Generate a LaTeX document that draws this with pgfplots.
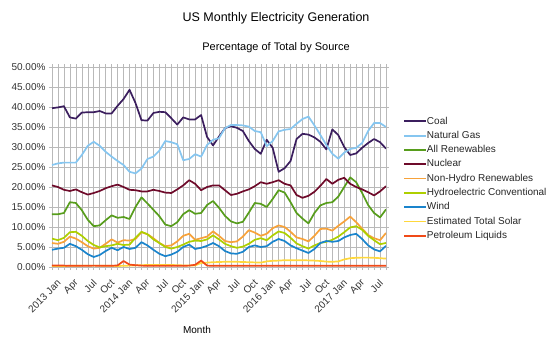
\documentclass[border=0pt]{standalone}
\usepackage{fontspec}
\setmainfont{Liberation Sans}
\usepackage{pgfplots}
\usepackage{pgfplotstable}
\pgfplotsset{compat=1.18}
\definecolor{cCoal}{HTML}{3B1E5E}
\definecolor{cGas}{HTML}{86C6F0}
\definecolor{cRen}{HTML}{579D1C}
\definecolor{cNuc}{HTML}{6E0A2A}
\definecolor{cNH}{HTML}{F7A23A}
\definecolor{cHyd}{HTML}{AECF00}
\definecolor{cWind}{HTML}{1A84CC}
\definecolor{cSol}{HTML}{FFD83C}
\definecolor{cPet}{HTML}{F04A18}
\pgfplotstableread{
idx coal gas ren nuc nh hyd wind sol pet
0 39.7 25.5 13.2 20.4 6.0 7.1 4.3 0.20 0.40
1 39.9 25.9 13.2 20.0 5.8 6.7 4.6 0.20 0.40
2 40.2 26.1 13.5 19.3 6.3 7.3 4.8 0.25 0.35
3 37.4 26.1 16.2 19.0 7.6 8.7 5.8 0.30 0.30
4 37.1 26.1 16.0 19.4 7.1 8.8 5.2 0.30 0.30
5 38.6 28.0 14.2 18.7 6.2 7.8 4.3 0.35 0.30
6 38.7 30.3 11.8 18.1 5.2 6.5 3.2 0.35 0.30
7 38.7 31.3 10.2 18.5 4.6 5.5 2.5 0.35 0.35
8 39.0 30.3 10.4 19.0 4.8 4.9 3.0 0.35 0.30
9 38.4 28.8 11.7 19.7 5.8 5.2 4.0 0.30 0.30
10 38.4 27.6 12.9 20.2 6.9 5.4 4.8 0.30 0.30
11 40.3 26.5 12.3 20.6 6.1 5.8 4.2 0.25 0.40
12 42.0 25.5 12.5 20.0 6.7 5.5 5.0 0.30 1.50
13 44.3 23.8 12.0 19.3 6.6 5.6 4.5 0.35 0.60
14 41.0 23.4 15.0 19.2 7.0 7.3 4.8 0.40 0.45
15 36.7 24.6 17.4 18.9 8.7 8.8 6.2 0.45 0.35
16 36.6 27.0 15.9 18.9 8.2 8.2 5.4 0.50 0.30
17 38.5 27.6 14.3 19.3 7.2 6.9 4.3 0.50 0.30
18 38.8 29.1 12.7 19.0 6.0 6.0 3.3 0.50 0.30
19 38.7 31.5 10.6 18.6 5.2 5.0 2.7 0.50 0.30
20 37.2 31.2 10.2 18.5 5.4 4.6 3.1 0.50 0.30
21 35.6 30.7 11.2 19.4 6.4 5.0 3.8 0.45 0.30
22 37.4 26.7 13.2 20.4 7.8 5.6 5.0 0.40 0.30
23 36.9 27.0 14.2 21.7 8.3 6.3 5.6 0.40 0.35
24 36.9 28.2 13.3 20.8 6.8 6.6 4.5 0.40 0.55
25 38.0 27.6 13.5 19.2 7.2 6.5 4.8 1.00 1.60
26 32.5 30.5 15.5 20.0 7.6 6.9 5.3 1.10 0.35
27 30.4 31.8 16.5 20.4 8.9 7.9 6.0 1.20 0.30
28 32.6 32.2 14.8 20.4 7.8 6.9 5.2 1.25 0.30
29 34.7 34.7 12.8 19.2 6.5 5.8 4.0 1.30 0.30
30 35.2 35.5 11.4 18.0 6.2 5.2 3.4 1.30 0.30
31 34.8 35.5 10.9 18.3 6.4 4.8 3.3 1.30 0.30
32 34.0 35.4 11.3 18.9 7.6 5.1 3.8 1.25 0.30
33 31.5 35.1 13.6 19.4 9.2 5.8 5.0 1.20 0.30
34 29.5 34.0 16.0 20.2 8.6 6.8 5.4 1.15 0.30
35 28.3 33.7 15.8 21.2 7.8 7.2 5.0 1.10 0.30
36 31.8 30.2 15.0 20.8 8.3 6.7 5.2 1.40 0.30
37 29.8 31.5 17.0 21.2 9.7 7.9 6.3 1.55 0.30
38 23.8 33.9 19.2 21.7 10.4 8.9 7.0 1.60 0.30
39 24.7 34.3 18.6 20.8 10.0 8.5 6.5 1.70 0.30
40 26.5 34.5 16.2 20.4 8.8 7.3 5.4 1.70 0.30
41 32.0 35.8 13.5 18.0 7.4 5.9 4.7 1.70 0.30
42 33.3 37.0 12.1 17.3 7.0 5.2 4.1 1.70 0.30
43 33.1 37.6 10.9 17.8 6.4 4.6 3.5 1.65 0.30
44 32.4 35.4 13.5 18.8 7.8 5.4 4.5 1.60 0.30
45 31.3 33.0 15.4 20.3 9.5 6.0 6.0 1.50 0.30
46 29.4 30.5 16.0 22.0 9.6 6.3 6.5 1.35 0.30
47 34.4 28.3 16.2 20.8 9.1 6.8 6.3 1.30 0.30
48 33.0 27.1 17.6 21.8 10.3 7.6 6.5 1.40 0.30
49 30.0 28.6 20.0 22.3 11.4 8.7 7.4 1.90 0.30
50 28.0 29.5 22.4 20.8 12.6 9.9 8.0 2.20 0.30
51 28.4 29.8 21.2 20.0 11.2 10.2 8.3 2.30 0.30
52 29.8 31.0 18.5 19.4 9.6 9.3 7.0 2.35 0.30
53 31.0 34.0 15.5 18.7 8.0 7.8 5.4 2.35 0.30
54 32.0 36.0 13.5 17.9 7.2 6.7 4.4 2.30 0.30
55 31.2 36.0 12.4 18.9 6.7 5.7 3.9 2.20 0.30
56 29.6 35.0 14.4 20.2 8.5 6.0 5.3 2.10 0.30
}\datatable
\begin{document}
\begin{tikzpicture}
\useasboundingbox (-52bp,-83bp) rectangle (501bp,267bp);
\begin{axis}[
  at={(0,0)}, anchor=south west,
  width=334bp, height=200bp, scale only axis,
  xmin=0, xmax=56, ymin=0, ymax=50,
  xtick={0,...,56},
  xticklabels={2013 Jan,,,Apr,,,Jul,,,Oct,,,2014 Jan,,,Apr,,,Jul,,,Oct,,,2015 Jan,,,Apr,,,Jul,,,Oct,,,2016 Jan,,,Apr,,,Jul,,,Oct,,,2017 Jan,,,Apr,,,Jul,,},
  ytick={0,5,...,50},
  yticklabel={\pgfmathprintnumber[fixed,fixed zerofill,precision=2]{\tick}\%},
  /pgf/number format/assume math mode=true,
  grid=major,
  grid style={gray!55, line width=0.5bp},
  axis line style={gray!55, line width=0.5bp},
  tick style={gray!55, line width=0.5bp},
  tick align=outside,
  major tick length=3bp,
  xticklabel style={xshift=9.5bp, yshift=-9bp, rotate=45, anchor=east, font=\fontsize{10bp}{12bp}\selectfont, text=black!80},
  yticklabel style={font=\fontsize{10bp}{12bp}\selectfont, text=black!80},
  legend style={at={(1.0419,0.763)}, anchor=north west, draw=none, fill=none,
    font=\fontsize{10bp}{12bp}\selectfont, text=black!85, row sep=4.8bp,
    nodes={inner sep=0pt, text height=7.5bp, text depth=2bp},
    /tikz/every even column/.append style={column sep=3.7bp}},
  legend cell align=left,
  legend image code/.code={\draw[#1, line width=1.8bp] (0bp,0bp) -- (22bp,0bp);},
  legend image post style={line width=1.8bp},
  every axis plot/.append style={line width=1.7bp, line join=round},
]
\addplot[cCoal] table[x=idx,y=coal]{\datatable};
\addlegendentry{Coal}
\addplot[cGas] table[x=idx,y=gas]{\datatable};
\addlegendentry{Natural Gas}
\addplot[cRen] table[x=idx,y=ren]{\datatable};
\addlegendentry{All Renewables}
\addplot[cNuc] table[x=idx,y=nuc]{\datatable};
\addlegendentry{Nuclear}
\addplot[cNH] table[x=idx,y=nh]{\datatable};
\addlegendentry{Non-Hydro Renewables}
\addplot[cHyd] table[x=idx,y=hyd]{\datatable};
\addlegendentry{Hydroelectric Conventional}
\addplot[cWind] table[x=idx,y=wind]{\datatable};
\addlegendentry{Wind}
\addplot[cSol] table[x=idx,y=sol]{\datatable};
\addlegendentry{Estimated Total Solar}
\addplot[cPet] table[x=idx,y=pet]{\datatable};
\addlegendentry{Petroleum Liquids}
\end{axis}
\node[font=\fontsize{12.5bp}{15bp}\selectfont] at (224bp,249bp) {US Monthly Electricity Generation};
\node[font=\fontsize{11bp}{13bp}\selectfont] at (224bp,219bp) {Percentage of Total by Source};
\node[font=\fontsize{10bp}{12bp}\selectfont] at (145bp,-63bp) {Month};
\end{tikzpicture}
\end{document}
